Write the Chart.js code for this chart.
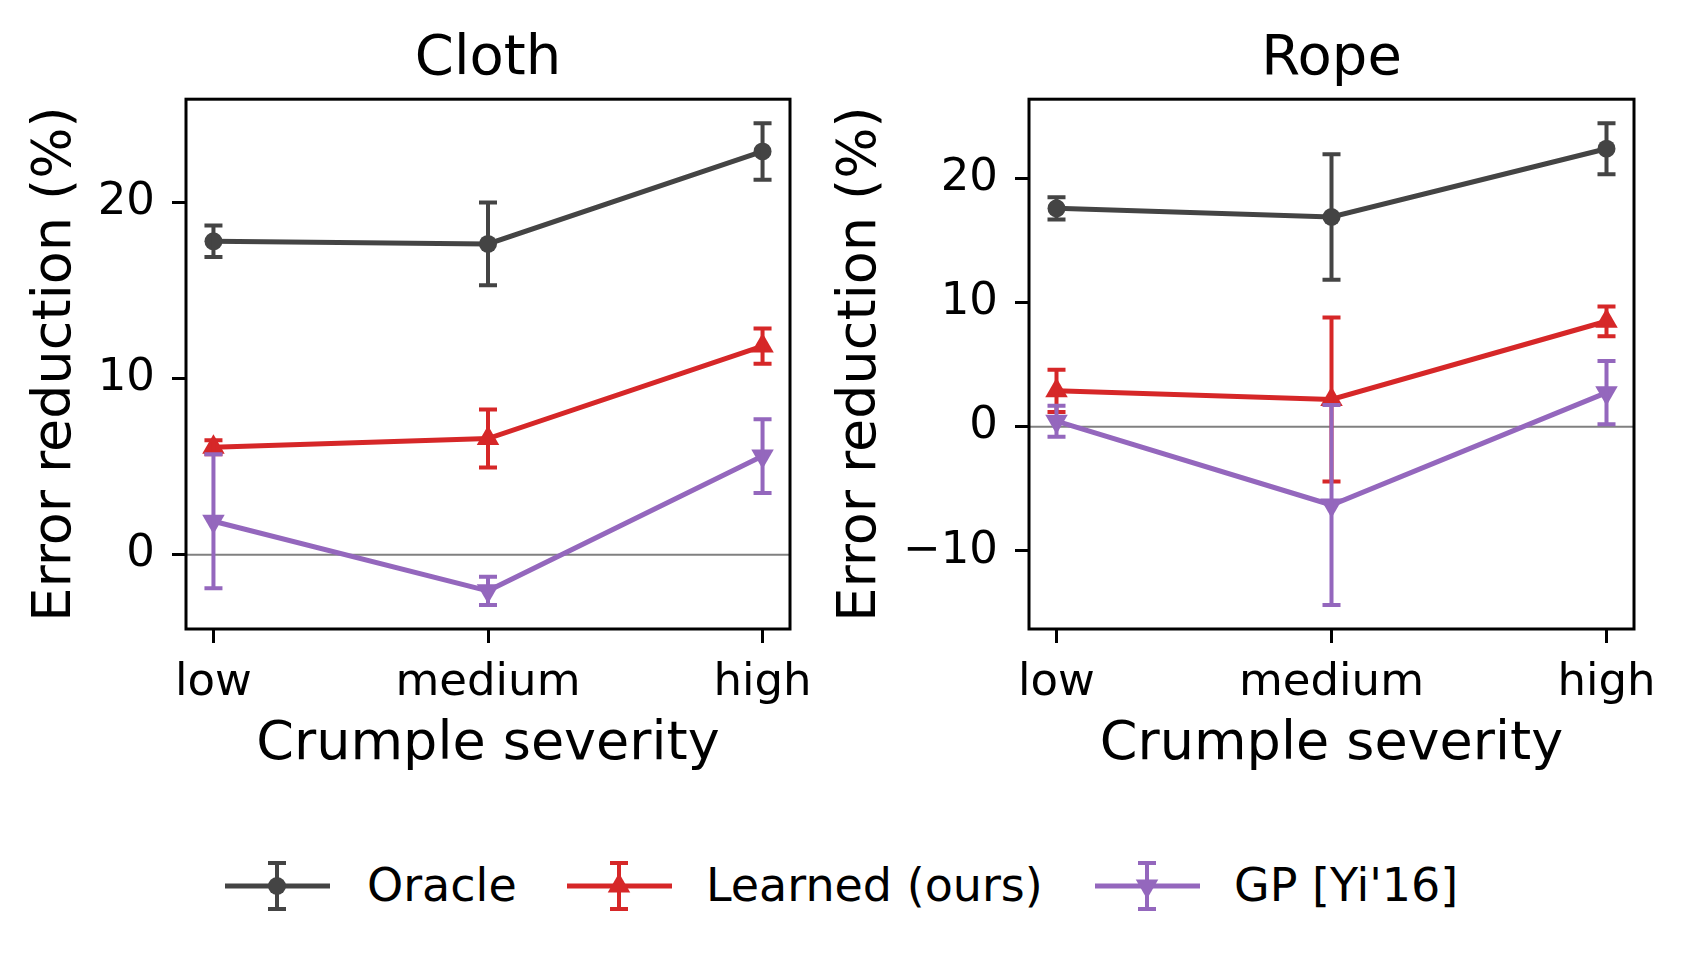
<!DOCTYPE html>
<html>
<head>
<meta charset="utf-8">
<title>Error reduction vs crumple severity</title>
<script src="https://cdn.jsdelivr.net/npm/chart.js@4.4.1/dist/chart.umd.min.js"></script>
<style>
  html, body { margin: 0; padding: 0; background: #fff; }
  body { width: 1686px; height: 953px; position: relative; overflow: hidden; font-family: 'DejaVu Sans', sans-serif; }
  canvas { position: absolute; top: 0; }
  #cloth { left: 0; }
  #rope { left: 810px; }
  .lg-text { position: absolute; font-size: 46px; line-height: 46px; color: #000; white-space: nowrap; }
</style>
</head>
<body>
<canvas id="cloth" width="830" height="777"></canvas>
<canvas id="rope" width="876" height="777"></canvas>
<div id="legend"></div>
<script>
'use strict';

// data
const categories = ['low', 'medium', 'high'];
const yTicksCloth = [0, 10, 20];
const yTicksRope = [-10, 0, 10, 20];

const clothOracle = [17.8, 17.65, 22.9];
const clothOracleErr = [0.9, 2.35, 1.6];
const clothLearned = [6.1, 6.6, 11.85];
const clothLearnedErr = [0.4, 1.65, 1.0];
const clothGP = [1.9, -2.05, 5.6];
const clothGPErr = [3.8, 0.8, 2.1];

const ropeOracle = [17.6, 16.9, 22.4];
const ropeOracleErr = [0.9, 5.05, 2.05];
const ropeLearned = [2.9, 2.2, 8.5];
const ropeLearnedErr = [1.7, 6.6, 1.2];
const ropeGP = [0.45, -6.3, 2.75];
const ropeGPErr = [1.25, 8.05, 2.55];

const seriesNames = ['Oracle', 'Learned (ours)', "GP [Yi'16]"];
const seriesColors = ['#444444', '#d62728', '#9467bd'];
const seriesMarkers = ['circle', 'triangle', 'triangle'];
const seriesRotation = [0, 0, 180];
const seriesRadius = [9, 13, 13];

const FONT = 'DejaVu Sans';

const makeDatasets = function (values, errs) {
    return values.map((vals, k) => ({
        label: seriesNames[k],
        data: vals.map((y, i) => ({ x: i, y: y })),
        errors: errs[k],
        borderColor: seriesColors[k],
        backgroundColor: seriesColors[k],
        borderWidth: 5,
        tension: 0,
        fill: false,
        pointStyle: seriesMarkers[k],
        pointRotation: seriesRotation[k],
        pointRadius: seriesRadius[k],
        pointBorderWidth: 0,
        pointBackgroundColor: seriesColors[k],
        order: 3 - k
    }));
};

// matplotlib-like autoscale: data extent incl. error bars plus 5% margin
const autoRange = function (values, errs) {
    let lo = Infinity, hi = -Infinity;
    values.forEach((vals, k) => vals.forEach((v, i) => {
        lo = Math.min(lo, v - errs[k][i]);
        hi = Math.max(hi, v + errs[k][i]);
    }));
    const pad = (hi - lo) * 0.05;
    return [lo - pad, hi + pad];
};

const errorBars = {
    id: 'errorBars',
    afterDatasetDraw(chart, args) {
        const ds = chart.data.datasets[args.index];
        if (!ds.errors) return;
        const ys = chart.scales.y;
        const ctx = chart.ctx;
        ctx.save();
        ctx.strokeStyle = ds.borderColor;
        ctx.lineWidth = 4;
        args.meta.data.forEach((pt, i) => {
            const v = ds.data[i].y, e = ds.errors[i];
            const top = ys.getPixelForValue(v + e);
            const bot = ys.getPixelForValue(v - e);
            ctx.beginPath();
            ctx.moveTo(pt.x, top); ctx.lineTo(pt.x, bot);
            ctx.moveTo(pt.x - 9, top); ctx.lineTo(pt.x + 9, top);
            ctx.moveTo(pt.x - 9, bot); ctx.lineTo(pt.x + 9, bot);
            ctx.stroke();
        });
        ctx.restore();
    }
};

const zeroLine = {
    id: 'zeroLine',
    beforeDatasetsDraw(chart) {
        const a = chart.chartArea;
        const y0 = chart.scales.y.getPixelForValue(0);
        const ctx = chart.ctx;
        ctx.save();
        ctx.strokeStyle = '#808080';
        ctx.lineWidth = 2;
        ctx.beginPath();
        ctx.moveTo(a.left, y0); ctx.lineTo(a.right, y0);
        ctx.stroke();
        ctx.restore();
    }
};

const frame = {
    id: 'frame',
    afterDraw(chart) {
        const a = chart.chartArea;
        const ctx = chart.ctx;
        ctx.save();
        ctx.strokeStyle = '#000';
        ctx.lineWidth = 3;
        ctx.strokeRect(a.left, a.top, a.right - a.left, a.bottom - a.top);
        ctx.restore();
    }
};

const minusSign = v => (v < 0 ? '\u2212' + Math.abs(v) : String(v));

const makeChart = function (id, title, values, errs, yTicks, yAxisWidth, yTitlePad, rightPad) {
    const yr = autoRange(values, errs);
    const n = categories.length - 1;
    return new Chart(document.getElementById(id), {
        type: 'line',
        data: { datasets: makeDatasets(values, errs) },
        plugins: [zeroLine, errorBars, frame],
        options: {
            responsive: false,
            animation: false,
            events: [],
            layout: { padding: { left: 0, right: rightPad, top: 0, bottom: 0 } },
            plugins: {
                legend: { display: false },
                tooltip: { enabled: false },
                title: {
                    display: true,
                    text: title,
                    fullSize: false,
                    color: '#000',
                    font: { family: FONT, size: 56, weight: 'normal' },
                    padding: { top: 26, bottom: 6 }
                }
            },
            scales: {
                x: {
                    type: 'linear',
                    min: -0.05 * n,
                    max: n * 1.05,
                    afterBuildTicks: s => { s.ticks = categories.map((c, i) => ({ value: i })); },
                    afterFit: s => { s.height = 148; },
                    ticks: {
                        callback: v => categories[v],
                        color: '#000',
                        font: { family: FONT, size: 45 },
                        padding: 13,
                        maxRotation: 0,
                        autoSkip: false
                    },
                    grid: { drawOnChartArea: false, drawTicks: true, tickLength: 14, tickWidth: 3, tickColor: '#000' },
                    border: { display: false },
                    title: {
                        display: true,
                        text: 'Crumple severity',
                        color: '#000',
                        font: { family: FONT, size: 54 },
                        padding: { top: 0, bottom: 0 }
                    }
                },
                y: {
                    type: 'linear',
                    min: yr[0],
                    max: yr[1],
                    afterBuildTicks: s => { s.ticks = yTicks.map(v => ({ value: v })); },
                    afterFit: s => { s.width = yAxisWidth; },
                    ticks: {
                        callback: minusSign,
                        color: '#000',
                        font: { family: FONT, size: 45 },
                        padding: 17
                    },
                    grid: { drawOnChartArea: false, drawTicks: true, tickLength: 14, tickWidth: 3, tickColor: '#000' },
                    border: { display: false },
                    title: {
                        display: true,
                        text: 'Error reduction (%)',
                        color: '#000',
                        font: { family: FONT, size: 54 },
                        padding: { top: yTitlePad, bottom: 0 }
                    }
                }
            }
        }
    });
};

makeChart('cloth', 'Cloth',
    [clothOracle, clothLearned, clothGP],
    [clothOracleErr, clothLearnedErr, clothGPErr],
    yTicksCloth, 186, 24, 40);

makeChart('rope', 'Rope',
    [ropeOracle, ropeLearned, ropeGP],
    [ropeOracleErr, ropeLearnedErr, ropeGPErr],
    yTicksRope, 219, 19, 52);

// legend below both panels
const legendHandleX = [225, 567, 1095];
const legendTextX = [367, 706, 1234];
const legendY = 886;
const legend = document.getElementById('legend');
seriesNames.forEach((name, k) => {
    const c = document.createElement('canvas');
    c.width = 110; c.height = 60;
    c.style.left = legendHandleX[k] + 'px';
    c.style.top = (legendY - 30) + 'px';
    legend.appendChild(c);
    const ctx = c.getContext('2d');
    const col = seriesColors[k];
    ctx.strokeStyle = col; ctx.fillStyle = col;
    ctx.lineWidth = 5;
    ctx.beginPath(); ctx.moveTo(0, 30); ctx.lineTo(105, 30); ctx.stroke();
    ctx.lineWidth = 4;
    ctx.beginPath();
    ctx.moveTo(52, 7); ctx.lineTo(52, 53);
    ctx.moveTo(43, 7); ctx.lineTo(61, 7);
    ctx.moveTo(43, 53); ctx.lineTo(61, 53);
    ctx.stroke();
    Chart.helpers.drawPoint(ctx, {
        pointStyle: seriesMarkers[k],
        rotation: seriesRotation[k],
        radius: seriesRadius[k],
        borderWidth: 0
    }, 52, 30);
    const t = document.createElement('div');
    t.className = 'lg-text';
    t.textContent = name;
    t.style.left = legendTextX[k] + 'px';
    t.style.top = (legendY - 24) + 'px';
    legend.appendChild(t);
});
</script>
</body>
</html>
